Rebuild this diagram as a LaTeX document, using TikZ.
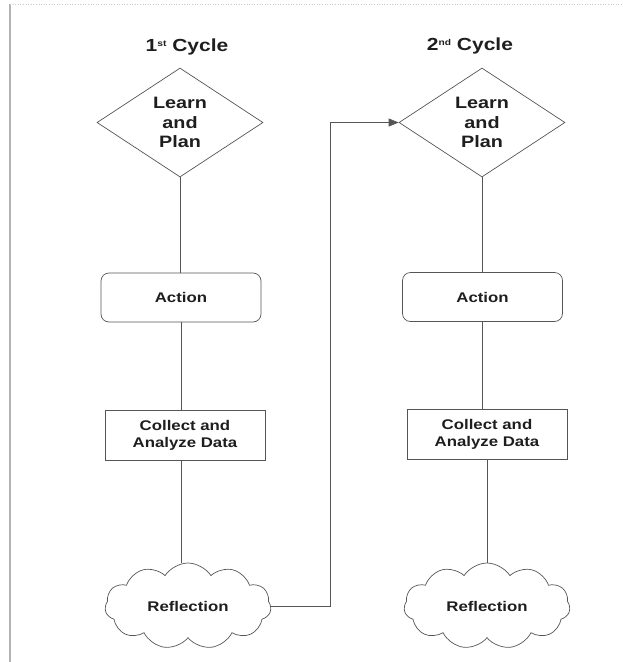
\documentclass[tikz,border=0pt]{standalone}
\usepackage{fontspec}
\setmainfont{Liberation Sans}[FakeStretch=1.2]
\usetikzlibrary{shapes.geometric,shapes.symbols,arrows.meta}
\definecolor{edge}{HTML}{555555}
\definecolor{ink}{HTML}{1E1E1E}
\newcommand{\smallsup}[1]{\raisebox{5.5pt}{\fontsize{8.5}{8.5}\selectfont #1}}
\begin{document}
\begin{tikzpicture}[x=1pt,y=-1pt,
  every node/.style={text=ink,font=\bfseries\fontsize{14}{17}\selectfont,align=center},
  title/.style={font=\bfseries\fontsize{17.5}{20}\selectfont},
  bigtext/.style={font=\bfseries\fontsize{16.5}{19.5}\selectfont},
  decide/.style={diamond,draw=edge,line width=0.7pt,minimum width=166pt,minimum height=109pt,inner sep=0pt,bigtext},
  actbox/.style={rectangle,rounded corners=8pt,draw=edge,line width=0.7pt,minimum width=160pt,minimum height=49pt},
  databox/.style={rectangle,draw=edge,line width=0.7pt,minimum width=160pt,minimum height=50pt},
  thought/.style={cloud,cloud puffs=11,cloud puff arc=115,aspect=2,draw=edge,line width=0.7pt,minimum width=166pt,minimum height=86pt,inner sep=0pt},
  link/.style={draw=edge,line width=0.7pt},
  arrowlink/.style={link,-{Triangle[length=10pt,width=8pt]}}]
\useasboundingbox (0,0) rectangle (622,662);
\draw[gray!60,line width=1.2pt] (10,4) -- (10,662);
\draw[gray!40,line width=0.6pt,dotted] (10,4) -- (622,4);
\node[title] (t1) at (187,47) {1\smallsup{st} Cycle};
\node[title] (t2) at (470,46) {2\smallsup{nd} Cycle};
\node[decide] (l1) at (180,122.5) {Learn\\and\\Plan};
\node[decide] (l2) at (482,122.5) {Learn\\and\\Plan};
\node[actbox] (a1) at (181,297.5) {Action};
\node[actbox] (a2) at (482.5,297) {Action};
\node[databox] (c1) at (185,435) {Collect and\\Analyze Data};
\node[databox] (c2) at (487,434.5) {Collect and\\Analyze Data};
\node[thought] (r1) at (188,606) {Reflection};
\node[thought] (r2) at (487,606) {Reflection};
\coordinate (bend) at (330,122.5);
\path[link] (l1.south) -- (a1.north -| l1.south);
\path[link] (a1.south) -- (a1.south |- c1.north);
\path[link] (c1.south -| a1.south) -- (r1.north -| a1.south);
\path[link] (l2.south) -- (a2.north -| l2.south);
\path[link] (a2.south) -- (a2.south |- c2.north);
\path[link] (c2.south) -- (r2.north);
\path[arrowlink] (r1.east) -| (bend) -- (l2.west);
\end{tikzpicture}
\end{document}
